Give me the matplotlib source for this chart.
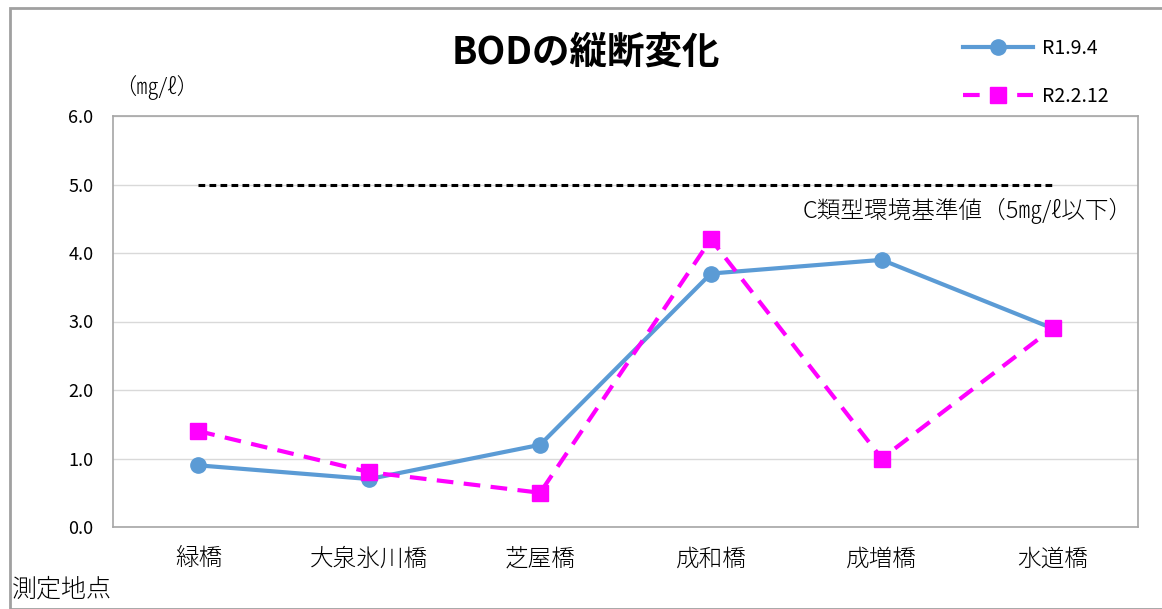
import matplotlib
matplotlib.use("Agg")
import matplotlib.pyplot as plt
from matplotlib.patches import Rectangle

plt.rcParams['font.family'] = ['Noto Sans CJK JP', 'DejaVu Sans']

# 測定地点とBOD値
sites = ["緑橋", "大泉氷川橋", "芝屋橋", "成和橋", "成増橋", "水道橋"]
r1_9_4 = [0.9, 0.7, 1.2, 3.7, 3.9, 2.9]
r2_2_12 = [1.4, 0.8, 0.5, 4.2, 1.0, 2.9]
standard = 5.0
yticks = [0.0, 1.0, 2.0, 3.0, 4.0, 5.0, 6.0]

W, H = 1162, 609
fig = plt.figure(figsize=(W / 100, H / 100), dpi=100)

# 外枠
fig.patches.append(Rectangle((10 / W, 0), 1.2, 1 - 8 / H, transform=fig.transFigure,
                             fill=False, edgecolor="#a0a0a0", linewidth=2.0))

ax = fig.add_axes([113 / W, 1 - 527 / H, (1138 - 113) / W, (527 - 116) / H])
x = list(range(len(sites)))

ax.plot(x, r1_9_4, color="#5b9bd5", linewidth=3, marker="o", markersize=11, label="R1.9.4", zorder=3)
ax.plot(x, r2_2_12, color="#ff00ff", linewidth=3, linestyle=(0, (4, 2.5)), marker="s",
        markersize=11, label="R2.2.12", zorder=4)
ax.plot([x[0], x[-1]], [standard, standard], color="black", linewidth=2.2,
        linestyle=(0, (2.2, 1.4)), zorder=2)

ax.set_xlim(-0.5, len(sites) - 0.5)
ax.set_ylim(0, 6)
ax.set_yticks(yticks)
ax.set_yticklabels([f"{v:.1f}" for v in yticks], fontsize=13)
ax.set_xticks(x)
ax.set_xticklabels(sites, fontsize=17, fontweight="light")
ax.tick_params(axis="y", length=0, pad=14)
ax.tick_params(axis="x", length=0, pad=14)
ax.grid(axis="y", color="#d9d9d9", linewidth=1)
for s in ax.spines.values():
    s.set_color("#a6a6a6")
    s.set_linewidth(1.2)

ax.text(5.47, 4.62, "C類型環境基準値（5㎎/ℓ以下）", ha="right", va="center", fontsize=17,
        fontweight="light")

fig.text(586 / W, 1 - 52 / H, "BODの縦断変化", ha="center", va="center", fontsize=27, fontweight="bold")
fig.text(114 / W, 1 - 88 / H, "（㎎/ℓ）", ha="left", va="center", fontsize=16, fontweight="light")
fig.text(12 / W, 1 - 589 / H, "測定地点", ha="left", va="center", fontsize=18, fontweight="light")

fig.legend(loc="upper left", bbox_to_anchor=(945 / W, 1 - 20 / H), frameon=False,
           fontsize=14, handlelength=3.6, labelspacing=1.4, handletextpad=0.5)

fig.savefig("out.png", dpi=100)
